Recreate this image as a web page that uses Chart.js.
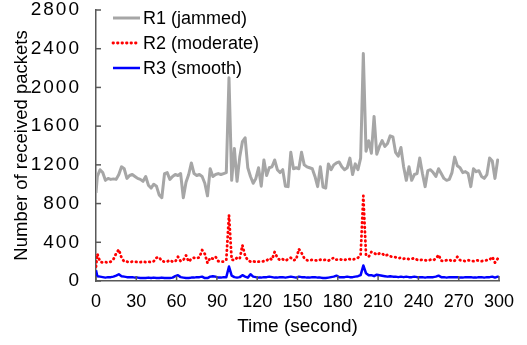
<!DOCTYPE html>
<html><head><meta charset="utf-8">
<script src="https://cdn.jsdelivr.net/npm/chart.js@4"></script>
<style>html,body{margin:0;padding:0;background:#fff}#wrap{width:527px;height:345px}</style>
</head><body><div id="wrap"><canvas id="c" width="527" height="345"></canvas></div>
<script>
const times = [0,
  1,3,5,7,9,11,13,15,17,19,
  21,23,25,27,29,31,33,35,37,39,
  41,43,45,47,49,51,53,55,57,59,
  61,63,65,67,69,71,73,75,77,79,
  81,83,85,87,89,91,93,95,97,99,
  101,103,105,107,109,111,113,115,117,119,
  121,123,125,127,129,131,133,135,137,139,
  141,143,145,147,149,151,153,155,157,159,
  161,163,165,167,169,171,173,175,177,179,
  181,183,185,187,189,191,193,195,197,199,
  201,203,205,207,209,211,213,215,217,219,
  221,223,225,227,229,231,233,235,237,239,
  241,243,245,247,249,251,253,255,257,259,
  261,263,265,267,269,271,273,275,277,279,
  281,283,285,287,289,291,293,295,297,299,
  300];

const r1Jammed = [
  910,1080,1150,1120,1040,1060,1050,1055,1050,1100,
  1180,1160,1060,1090,1100,1080,1060,1050,1030,1080,
  990,960,1000,980,890,860,1110,1120,1050,1080,
  1100,1090,1110,860,1020,1100,1220,1110,1090,1100,
  1080,1010,880,1160,1080,1100,1110,1100,1110,1120,
  2100,1040,1370,1030,1280,1440,1480,1170,1080,1010,
  1060,1170,980,1250,1090,1170,1180,1250,1150,1120,
  1150,980,975,1330,1160,1170,1160,1330,1200,1180,
  1170,1160,1080,975,1180,970,960,1210,1150,1200,
  1220,1230,1180,1150,1170,1270,1100,1210,1150,1270,
  2350,1340,1450,1320,1700,1310,1390,1450,1390,1420,
  1500,1490,1330,1290,1380,1180,1040,1180,1040,1100,
  1110,1270,1110,975,1140,1150,1120,1080,1160,1110,
  1060,1040,1050,1120,1280,1190,1170,1120,1130,1110,
  975,1160,1130,1140,1080,1060,1100,1270,1240,1060,
  1250,1240];

const r2Moderate = [
  150,280,200,190,195,190,200,225,285,325,
  240,200,200,195,200,200,195,195,200,195,
  200,195,205,240,245,205,200,200,215,200,
  200,250,205,215,265,200,230,240,235,245,
  320,280,185,240,230,250,205,200,200,220,
  680,220,215,240,230,370,260,215,200,205,
  195,200,200,205,210,235,220,300,240,215,
  225,210,225,240,215,220,330,290,235,215,
  210,220,215,210,220,215,220,210,225,240,
  220,225,220,215,230,225,220,230,240,270,
  880,270,250,300,290,270,285,285,260,270,
  255,250,245,235,240,230,235,225,230,235,
  220,215,220,215,210,220,215,230,270,210,
  205,215,220,205,210,250,215,210,205,215,
  210,205,215,210,205,210,215,220,250,190,
  230,225];

const r3Smooth = [
  110,50,45,40,35,40,40,45,55,70,
  50,45,40,40,40,35,35,30,30,30,
  35,30,35,30,30,35,30,30,30,35,
  50,60,40,35,30,30,35,35,40,40,
  45,30,30,45,50,45,35,35,40,40,
  150,55,40,35,40,60,45,35,70,45,
  40,35,35,40,40,45,40,35,35,40,
  40,35,40,45,40,35,45,40,40,35,
  35,40,40,35,35,30,30,35,40,45,
  55,40,40,40,45,40,40,45,50,60,
  160,80,60,60,50,65,60,55,50,45,
  50,45,45,40,45,40,45,40,40,45,
  40,40,40,35,40,40,40,45,55,40,
  40,35,40,40,40,40,35,35,40,40,
  40,35,35,40,40,35,40,40,45,35,
  45,40];

const seriesLabels = ['R1 (jammed)', 'R2 (moderate)', 'R3 (smooth)'];
const xTicks = [0,30,60,90,120,150,180,210,240,270,300];
const yTicks = [0,400,800,1200,1600,2000,2400,2800];
const xTitle = 'Time (second)';
const yTitle = 'Number of received packets';

const FONT = 'Liberation Sans';
const AXIS = '#595959';

const toPts = arr => arr.map((v, i) => ({x: times[i], y: v}));

const deco = {
  id: 'deco',
  afterDraw(chart) {
    const ctx = chart.ctx, a = chart.chartArea;
    const xs = chart.scales.x, ys = chart.scales.y;
    ctx.save();
    if ('letterSpacing' in ctx) ctx.letterSpacing = '0px';
    ctx.strokeStyle = AXIS; ctx.lineWidth = 1.5;
    ys.ticks.forEach((t, i) => {
      const y = ys.getPixelForTick(i);
      ctx.beginPath(); ctx.moveTo(a.left, y); ctx.lineTo(a.left + 5, y); ctx.stroke();
    });
    xs.ticks.forEach((t, i) => {
      const x = xs.getPixelForTick(i);
      ctx.beginPath(); ctx.moveTo(x, a.bottom); ctx.lineTo(x, a.bottom - 5); ctx.stroke();
    });
    chart.data.datasets.forEach((ds, i) => {
      const y = a.top + 8 + i * 25;
      ctx.strokeStyle = ds.borderColor; ctx.lineWidth = ds.borderWidth;
      ctx.setLineDash(ds.borderDash || []); ctx.lineCap = ds.borderCapStyle || 'butt';
      ctx.beginPath(); ctx.moveTo(a.left + 17, y); ctx.lineTo(a.left + 44, y); ctx.stroke();
      ctx.setLineDash([]);
      ctx.fillStyle = '#000'; ctx.font = '18px "' + FONT + '"'; ctx.textBaseline = 'middle'; ctx.textAlign = 'left';
      ctx.fillText(ds.label, a.left + 47, y + 1);
    });
    ctx.restore();
  }
};

new Chart(document.getElementById('c'), {
  type: 'line',
  data: {
    datasets: [
      {label: seriesLabels[0], data: toPts(r1Jammed), borderColor: '#A6A6A6', borderWidth: 3, borderJoinStyle: 'round', pointRadius: 0},
      {label: seriesLabels[1], data: toPts(r2Moderate), borderColor: '#FF0000', borderWidth: 2.8, borderDash: [0.5, 4], borderCapStyle: 'round', borderJoinStyle: 'round', pointRadius: 0},
      {label: seriesLabels[2], data: toPts(r3Smooth), borderColor: '#0000FF', borderWidth: 2.5, borderJoinStyle: 'round', pointRadius: 0}
    ]
  },
  options: {
    responsive: false, animation: false, devicePixelRatio: 1,
    layout: {padding: {top: 0, right: 28, bottom: 0, left: 0}},
    plugins: {legend: {display: false}, tooltip: {enabled: false}},
    elements: {line: {tension: 0}},
    scales: {
      x: {
        type: 'linear', min: 0, max: 300,
        afterBuildTicks: s => { s.ticks = xTicks.map(v => ({value: v})); },
        ticks: {color: '#000', font: {family: FONT, size: 18}, padding: 2, maxRotation: 0, autoSkip: false, callback: v => String(v)},
        grid: {display: false},
        border: {display: true, color: AXIS, width: 1.5},
        title: {display: true, text: xTitle, color: '#000', font: {family: FONT, size: 19}, padding: {top: 0, bottom: 7}},
        afterFit: s => { s.height = 64; s.paddingLeft = 0; s.paddingRight = 0; }
      },
      y: {
        min: 0, max: 2800,
        afterBuildTicks: s => { s.ticks = yTicks.map(v => ({value: v})); },
        ticks: {color: '#000', font: {family: FONT, size: 19}, padding: 7, callback: v => String(v)},
        grid: {display: false},
        border: {display: true, color: AXIS, width: 1.5},
        title: {display: true, text: yTitle, color: '#000', font: {family: FONT, size: 18.5}, padding: {top: 11, bottom: 0}},
        afterFit: s => {
          s.width = 96; s.paddingTop = 10; s.paddingBottom = 0;
          const base = Object.getPrototypeOf(s).drawLabels;
          s.drawLabels = function (ca) {
            const ctx = this.ctx;
            const has = 'letterSpacing' in ctx;
            if (has) ctx.letterSpacing = '2px';
            base.call(this, ca);
            if (has) ctx.letterSpacing = '0px';
          };
        }
      }
    }
  },
  plugins: [deco]
});
</script>
</body></html>
